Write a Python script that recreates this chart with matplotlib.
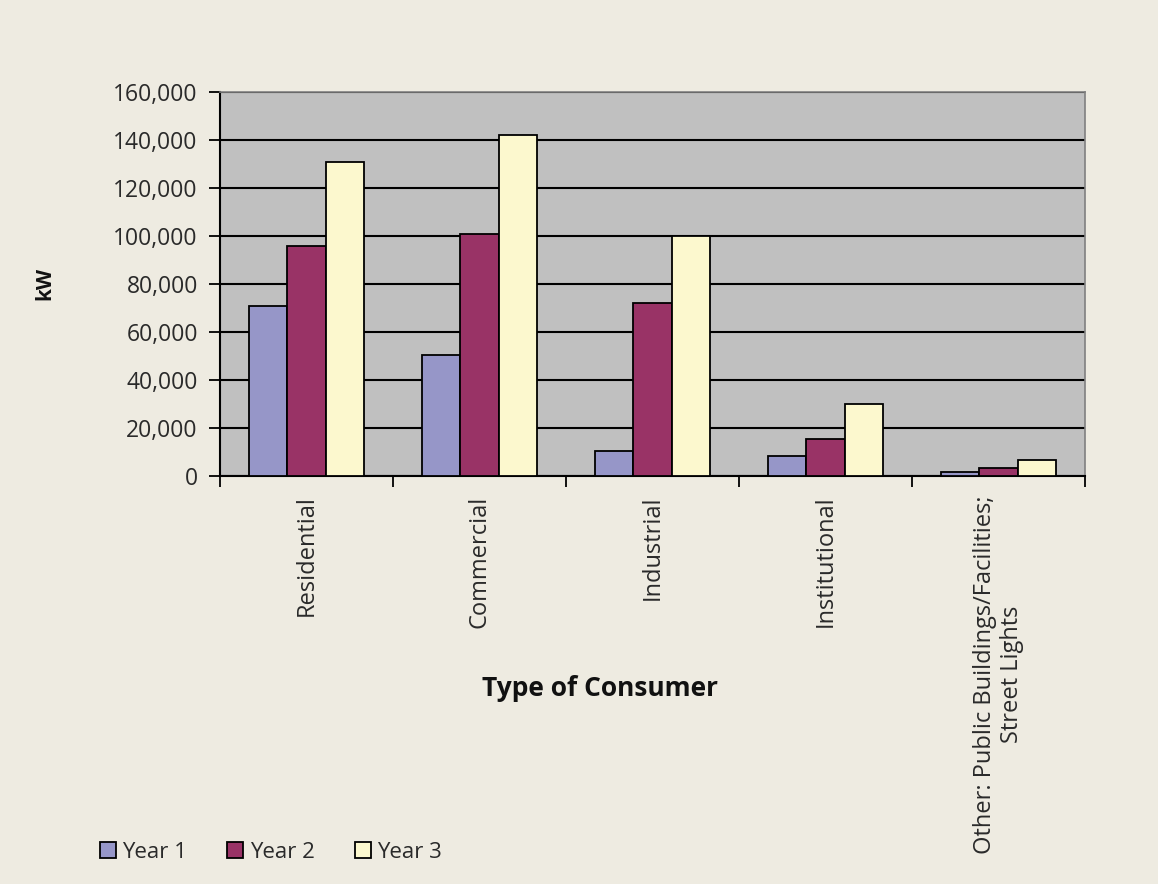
import matplotlib
matplotlib.use("Agg")
import matplotlib.pyplot as plt
import numpy as np

categories = ["Residential", "Commercial", "Industrial", "Institutional",
              "Other: Public Buildings/Facilities;\nStreet Lights"]
series_names = ["Year 1", "Year 2", "Year 3"]
year1 = [71000, 50500, 10500, 8500, 1500]
year2 = [96000, 101000, 72000, 15500, 3200]
year3 = [131000, 142000, 100000, 30000, 6700]
colors = ["#9696C8", "#993366", "#FCF8CE"]

plt.rcParams['font.family'] = ['Open Sans', 'DejaVu Sans']

fig = plt.figure(figsize=(11.58, 8.84), dpi=100)
fig.patch.set_facecolor("#EEEBE1")
ax = fig.add_axes([220/1158, 1 - 476/884, 865/1158, 384/884])
ax.set_facecolor("#C0C0C0")

x = np.arange(len(categories))
w = 1/4.5
for i, (vals, name, c) in enumerate(zip([year1, year2, year3], series_names, colors)):
    ax.bar(x + (i - 1) * w, vals, width=w, color=c, edgecolor="black", linewidth=1.3,
           label=name, zorder=3)

ax.set_xlim(-0.5, len(categories) - 0.5)
ax.set_ylim(0, 160000)
yt = np.arange(0, 160001, 20000)
ax.set_yticks(yt)
ax.set_yticklabels([f"{v:,}" for v in yt], fontsize=16.5, color="#2a2a2a")
ax.yaxis.grid(True, color="black", linewidth=1.5, zorder=1)
ax.set_axisbelow(True)

ax.set_xticks(np.arange(len(categories) + 1) - 0.5, minor=False)
ax.set_xticklabels([])
ax.set_xticks(x, minor=True)
ax.set_xticklabels(categories, minor=True, rotation=90, fontsize=17, va="top",
                   ha="center", multialignment="center", color="#2a2a2a")
ax.tick_params(axis="x", which="minor", length=0, pad=14)
ax.tick_params(axis="x", which="major", length=8, width=1.3, direction="out")
ax.tick_params(axis="y", length=8, width=1.3, direction="out", pad=8)

for s in ["left", "bottom"]:
    ax.spines[s].set_color("black")
    ax.spines[s].set_linewidth(1.5)
for s in ["top", "right"]:
    ax.spines[s].set_color("#808080")
    ax.spines[s].set_linewidth(1.2)

fig.text(45/1158, 1 - 283/884, "kW", rotation=90, fontsize=15, fontweight="bold",
         ha="center", va="center", color="#111111")
fig.text(600/1158, 1 - 688/884, "Type of Consumer", fontsize=19, fontweight="bold",
         ha="center", va="center", color="#111111")

leg = fig.legend(loc="center left", bbox_to_anchor=(93/1158, 1 - 852/884), ncol=3,
                 frameon=False, fontsize=16, handlelength=0.72, handleheight=0.72,
                 handletextpad=0.3, columnspacing=1.8, borderaxespad=0, borderpad=0.3)
plt.setp(leg.get_texts(), color="#2a2a2a")

fig.savefig("out.png", dpi=100, facecolor=fig.get_facecolor())
